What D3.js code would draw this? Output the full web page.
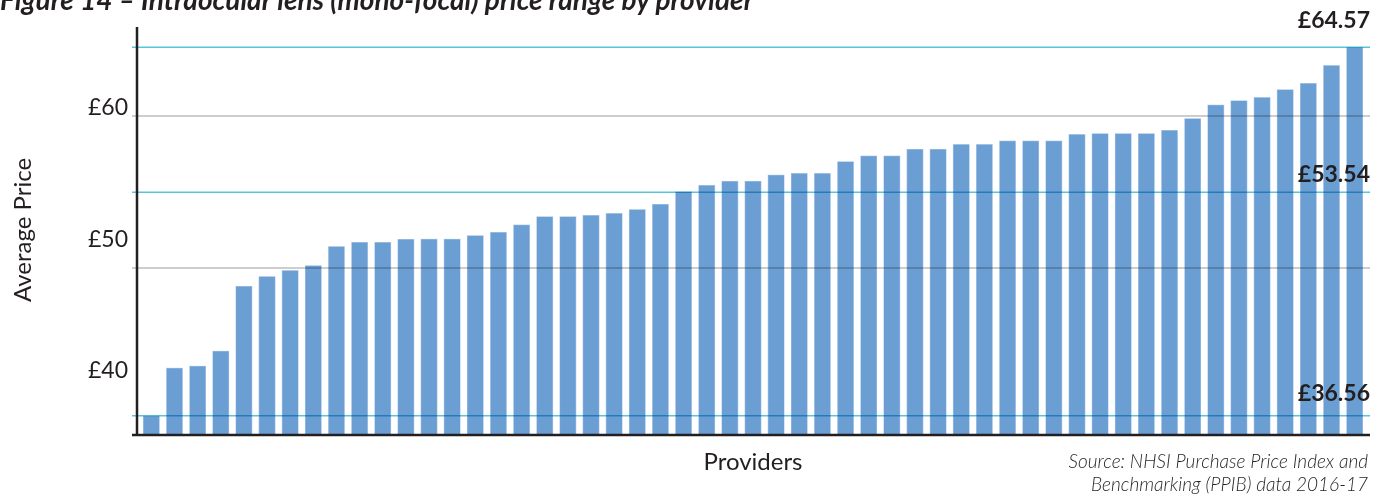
<!DOCTYPE html>
<html>
<head>
<meta charset="utf-8">
<script src="https://cdn.jsdelivr.net/npm/d3@7"></script>
<style>
  html, body { margin: 0; padding: 0; background: #fff; }
  svg { display: block; font-family: Lato, "Open Sans", sans-serif; }
</style>
</head>
<body>
<svg id="chart" width="1387" height="496"></svg>
<script>
// ---- data ----
const values = [36.56, 40.2, 40.35, 41.49, 46.42, 47.16, 47.62, 47.99, 49.44, 49.76,
  49.76, 49.99, 50.0, 50.0, 50.27, 50.52, 51.08, 51.71, 51.71, 51.81,
  51.96, 52.25, 52.65, 53.6, 54.09, 54.4, 54.4, 54.87, 55.0, 55.0,
  55.89, 56.32, 56.32, 56.83, 56.83, 57.2, 57.2, 57.46, 57.46, 57.46,
  57.96, 58.02, 58.02, 58.02, 58.27, 59.16, 60.19, 60.52, 60.77, 61.36,
  61.84, 63.2, 64.57];
const providers = values.map((_, i) => "Provider " + (i + 1));
const tickValues = [40, 50, 60];
const tickLabels = ["£40", "£50", "£60"];
const gridValues = [59.34, 47.79];
const refValues = [64.57, 53.54, 36.56];
const refLabels = ["£64.57", "£53.54", "£36.56"];
const titleText = "Figure 14 – Intraocular lens (mono-focal) price range by provider";
const yTitle = "Average Price";
const xTitle = "Providers";
const sourceLines = ["Source: NHSI Purchase Price Index and", "Benchmarking (PPIB) data 2016-17"];

(function () {
// ---- layout ----
const svg = d3.select("#chart");
const mLeft = 137, mRight = 1369, mTop = 27, mBottom = 435;
const lineLeft = 132, lineRight = 1370;
const textColor = "#231f20";

const x = d3.scaleBand().domain(providers).range([mLeft, mRight])
  .paddingInner(0.28).paddingOuter(0.26);
const y = d3.scaleLinear().domain([35.1, 66.1]).range([mBottom, mTop]);

// bars
svg.append("g").selectAll("rect").data(values).join("rect")
  .attr("x", (d, i) => x(providers[i]))
  .attr("width", x.bandwidth())
  .attr("y", d => y(d))
  .attr("height", d => mBottom - y(d))
  .attr("fill", "#6b9fd4")
  .attr("stroke", "rgba(255,255,255,0.45)")
  .attr("stroke-width", 1);

// gray gridlines
svg.append("g").selectAll("line").data(gridValues).join("line")
  .attr("x1", lineLeft).attr("x2", lineRight)
  .attr("y1", d => y(d)).attr("y2", d => y(d))
  .attr("stroke", "#bdbdbd").attr("stroke-width", 1.5)
  .style("mix-blend-mode", "multiply");

// reference lines
svg.append("g").selectAll("line").data(refValues).join("line")
  .attr("x1", lineLeft).attr("x2", lineRight)
  .attr("y1", d => y(d)).attr("y2", d => y(d))
  .attr("stroke", "#58c5da").attr("stroke-width", 1.5)
  .style("mix-blend-mode", "multiply");

// reference labels
const refOffsets = [19, 10, 15];
svg.append("g").selectAll("text").data(refValues).join("text")
  .attr("x", lineRight)
  .attr("y", (d, i) => y(d) - refOffsets[i])
  .attr("text-anchor", "end")
  .attr("font-size", 23).attr("font-weight", 700)
  .attr("fill", textColor)
  .text((d, i) => refLabels[i]);

// y axis
const yAxis = d3.axisLeft(y).tickValues(tickValues)
  .tickFormat((d, i) => tickLabels[i]).tickSize(0).tickPadding(9);
const gy = svg.append("g").attr("transform", `translate(${mLeft},0)`).call(yAxis);
gy.select(".domain").remove();
gy.selectAll("text").attr("font-size", 23).attr("fill", textColor)
  .attr("font-family", "Lato, sans-serif");

// axis lines
svg.append("line").attr("x1", mLeft).attr("x2", mLeft).attr("y1", mTop).attr("y2", mBottom)
  .attr("stroke", textColor).attr("stroke-width", 2.5);
svg.append("line").attr("x1", lineLeft).attr("x2", lineRight).attr("y1", mBottom).attr("y2", mBottom)
  .attr("stroke", textColor).attr("stroke-width", 2.5);

// axis titles
svg.append("text")
  .attr("transform", `translate(31,${(mTop + mBottom) / 2 - 1}) rotate(-90)`)
  .attr("text-anchor", "middle").attr("font-size", 24).attr("fill", textColor)
  .text(yTitle);
svg.append("text").attr("x", 753).attr("y", 470)
  .attr("text-anchor", "middle").attr("font-size", 24).attr("fill", textColor)
  .text(xTitle);

// source
svg.append("g").selectAll("text").data(sourceLines).join("text")
  .attr("x", 1368).attr("y", (d, i) => 468 + i * 23)
  .attr("text-anchor", "end").attr("font-size", 19)
  .attr("font-style", "italic").attr("font-weight", 300)
  .attr("fill", textColor)
  .text(d => d);

// title (cut by top edge, as in the source)
svg.append("text").attr("x", 0).attr("y", 10)
  .attr("font-size", 28).attr("font-weight", 700).attr("font-style", "italic")
  .attr("fill", textColor)
  .text(titleText);
})();
</script>
</body>
</html>
